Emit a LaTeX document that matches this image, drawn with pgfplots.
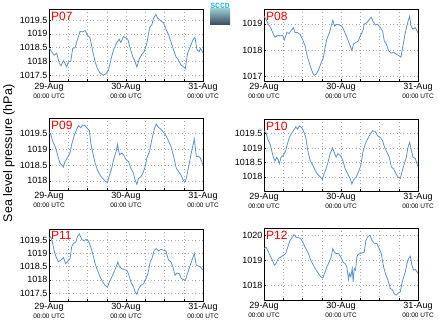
\documentclass[border=0pt]{standalone}
\usepackage{fontspec}
\setmainfont{Liberation Sans}
\setmonofont{Liberation Mono}
\usepackage{pgfplots}
\pgfplotsset{compat=1.18}
\definecolor{lineblue}{RGB}{98,146,196}
\definecolor{logocyan}{RGB}{40,185,210}
\tikzset{plabel/.style={anchor=north west, text=red, font=\fontsize{12}{12}\selectfont, inner sep=0pt, xshift=2pt, yshift=-2.5pt}}
\pgfplotsset{
  panel/.style={
    width=154pt, height=72pt, scale only axis,
    anchor=south west,
    xmin=0, xmax=48,
    xtick={0,24,48},
    minor xtick={6,12,18,30,36,42},
    xticklabels={{29-Aug\\[-1pt]{\fontsize{6.5}{7}\selectfont 00:00 UTC}},{30-Aug\\[-1pt]{\fontsize{6.5}{7}\selectfont 00:00 UTC}},{31-Aug\\[-1pt]{\fontsize{6.5}{7}\selectfont 00:00 UTC}}},
    xticklabel style={align=center, font=\fontsize{9}{10}\selectfont, inner sep=2pt},
    yticklabel style={font=\fontsize{9}{10}\selectfont, inner sep=1.5pt},
    /pgf/number format/.cd, 1000 sep={}, assume math mode=true, /pgfplots/.cd,
    grid=both,
    major grid style={dash pattern=on 0.8pt off 2.6pt, gray!65},
    minor grid style={dash pattern=on 0.8pt off 2.6pt, gray!65},
    tick align=inside,
    tick pos=left,
    major tick length=2pt, minor tick length=2pt,
    tick style={black, line width=0.4pt},
    axis line style={line width=0.6pt},
  },
  curve/.style={color=lineblue, line width=0.8pt},
}
\begin{document}
\begin{tikzpicture}
\useasboundingbox (0,0) rectangle (439pt,327pt);
% P07
\begin{axis}[panel, at={(49pt,246pt)}, ymin=1017.28, ymax=1019.9, ytick={1017.5,1018,1018.5,1019,1019.5}]
\addplot[curve] coordinates {(0,1018.49)(0.83,1018.35)(1.56,1018.22)(2.39,1018.29)(3.23,1017.92)(3.75,1017.83)(4.48,1018.02)(5.0,1017.92)(5.52,1017.79)(6.04,1017.98)(6.77,1017.98)(7.39,1018.47)(8.12,1018.49)(8.85,1018.78)(9.68,1019.08)(10.5,1019.07)(11.24,1019.12)(11.97,1018.96)(12.81,1018.84)(13.54,1018.41)(14.37,1017.98)(15.1,1017.73)(15.93,1017.57)(16.97,1017.49)(17.8,1017.55)(18.53,1017.67)(19.37,1018.1)(20.1,1018.41)(21.14,1018.68)(21.87,1018.8)(22.39,1018.68)(23.22,1018.9)(23.95,1018.84)(24.57,1018.8)(25.3,1018.47)(26.13,1018.16)(26.86,1017.98)(27.38,1017.79)(28.22,1018.1)(28.95,1018.25)(29.67,1018.35)(30.5,1018.65)(31.34,1019.21)(32.07,1019.33)(32.59,1019.57)(33.32,1019.71)(33.84,1019.57)(34.67,1019.49)(35.71,1019.39)(36.54,1019.14)(37.27,1018.96)(38.0,1018.71)(38.84,1018.41)(39.57,1018.16)(40.4,1018.04)(41.13,1017.86)(41.96,1017.79)(42.48,1017.73)(43.21,1018.29)(44.04,1018.53)(44.88,1018.78)(45.5,1018.87)(46.12,1018.41)(46.85,1018.35)(47.17,1018.47)(48,1018.31)};
\node[plabel] at (rel axis cs:0,1) {P07};
\end{axis}
% P08
\begin{axis}[panel, at={(264pt,246pt)}, ymin=1016.82, ymax=1019.56, ytick={1017,1018,1019}]
\addplot[curve] coordinates {(0,1019.29)(0.62,1019.16)(1.35,1018.98)(2.08,1018.85)(2.71,1018.66)(3.44,1018.48)(4.16,1018.56)(5.0,1018.54)(5.83,1018.56)(6.35,1018.38)(7.08,1018.66)(7.81,1018.63)(8.43,1018.73)(9.16,1018.85)(9.68,1018.66)(10.41,1018.66)(11.24,1018.6)(11.97,1018.41)(12.81,1018.16)(13.54,1017.73)(14.37,1017.41)(15.1,1017.16)(15.62,1017.04)(16.24,1017.08)(16.97,1017.23)(17.7,1017.48)(18.53,1017.73)(19.05,1018.1)(19.57,1018.41)(20.41,1018.66)(20.93,1018.91)(21.45,1019.13)(21.97,1018.91)(22.7,1018.98)(23.53,1018.95)(24.26,1018.91)(24.99,1018.73)(25.82,1018.48)(26.65,1018.23)(27.38,1017.98)(27.9,1018.23)(28.74,1018.29)(29.47,1018.35)(29.99,1018.54)(30.82,1018.73)(31.24,1018.98)(32.07,1019.04)(32.8,1019.16)(33.42,1019.25)(33.94,1019.1)(34.67,1018.95)(35.4,1018.98)(36.23,1018.85)(36.96,1018.73)(37.48,1018.35)(38.11,1018.23)(38.84,1017.98)(39.57,1017.88)(40.4,1017.91)(41.13,1017.85)(41.96,1017.79)(42.69,1017.73)(43.31,1018.16)(44.04,1018.66)(44.77,1019.04)(45.4,1019.29)(45.81,1018.91)(46.44,1018.79)(47.17,1018.85)(48,1018.66)};
\node[plabel] at (rel axis cs:0,1) {P08};
\end{axis}
% P09
\begin{axis}[panel, at={(49pt,137pt)}, ymin=1017.71, ymax=1019.98, ytick={1018,1018.5,1019,1019.5}]
\addplot[curve] coordinates {(0,1019.52)(0.52,1019.47)(1.15,1019.25)(1.87,1019.09)(2.39,1018.93)(2.92,1018.72)(3.44,1018.56)(3.96,1018.5)(4.48,1018.43)(5.0,1018.61)(5.73,1018.72)(6.56,1018.88)(7.08,1019.15)(7.81,1019.41)(8.64,1019.63)(9.16,1019.74)(9.89,1019.68)(10.52,1019.76)(11.24,1019.74)(11.97,1019.65)(12.6,1019.58)(13.02,1019.2)(13.64,1018.88)(14.37,1018.56)(15.1,1018.34)(15.93,1018.18)(16.76,1018.07)(17.49,1017.99)(18.22,1017.94)(18.85,1018.18)(19.57,1018.4)(20.1,1018.66)(20.93,1018.93)(21.35,1019.15)(21.97,1018.82)(22.7,1018.88)(23.22,1018.82)(24.05,1018.66)(24.78,1018.61)(25.51,1018.4)(26.34,1018.24)(26.86,1018.02)(27.38,1017.89)(27.9,1018.07)(28.63,1018.13)(29.26,1018.24)(29.99,1018.45)(30.51,1018.72)(31.34,1018.93)(32.07,1019.31)(32.8,1019.63)(33.42,1019.79)(34.15,1019.68)(34.88,1019.63)(35.71,1019.52)(36.54,1019.41)(37.27,1019.25)(38.0,1019.09)(38.84,1018.77)(39.67,1018.4)(40.4,1018.29)(41.13,1018.18)(41.96,1018.0)(42.48,1017.97)(43.0,1018.18)(43.84,1018.61)(44.56,1018.99)(45.29,1019.31)(45.91,1018.77)(46.64,1018.77)(47.17,1018.72)(48,1018.5)};
\node[plabel] at (rel axis cs:0,1) {P09};
\end{axis}
% P10
\begin{axis}[panel, at={(264pt,136pt)}, ymin=1017.51, ymax=1020.0, ytick={1018,1018.5,1019,1019.5}]
\addplot[curve] coordinates {(0,1019.59)(0.62,1019.53)(1.15,1019.31)(1.87,1019.14)(2.39,1018.91)(2.92,1018.68)(3.44,1018.55)(3.96,1018.68)(4.48,1018.57)(4.79,1018.45)(5.31,1018.68)(6.04,1018.74)(6.77,1018.91)(7.29,1019.14)(7.91,1019.36)(8.43,1019.48)(9.16,1019.59)(9.89,1019.73)(10.41,1019.65)(11.04,1019.76)(11.77,1019.7)(12.29,1019.59)(13.02,1019.36)(13.64,1018.91)(14.37,1018.57)(15.2,1018.4)(15.93,1018.23)(16.66,1018.09)(17.49,1018.0)(18.22,1017.91)(18.74,1018.11)(19.37,1018.28)(20.1,1018.57)(20.62,1018.8)(21.35,1019.0)(21.87,1018.85)(22.49,1018.68)(23.01,1018.8)(23.74,1018.74)(24.57,1018.57)(25.3,1018.28)(26.03,1018.11)(26.86,1017.94)(27.38,1017.75)(27.9,1017.89)(28.74,1018.0)(29.47,1018.17)(30.19,1018.4)(30.82,1018.85)(31.55,1019.14)(32.28,1019.31)(33.11,1019.48)(33.84,1019.59)(34.67,1019.57)(35.4,1019.42)(36.23,1019.36)(36.96,1019.25)(37.59,1019.02)(38.32,1018.85)(39.05,1018.68)(39.67,1018.34)(40.4,1018.28)(41.13,1018.11)(41.75,1018.0)(42.48,1017.94)(43.0,1018.17)(43.73,1018.45)(44.36,1018.68)(44.88,1019.02)(45.4,1019.19)(45.81,1018.97)(46.44,1018.68)(47.17,1018.63)(48,1018.34)};
\node[plabel] at (rel axis cs:0,1) {P10};
\end{axis}
% P11
\begin{axis}[panel, at={(49pt,26pt)}, ymin=1017.2, ymax=1019.92, ytick={1017.5,1018,1018.5,1019,1019.5}]
\addplot[curve] coordinates {(0,1019.56)(0.52,1019.63)(1.04,1019.44)(1.56,1019.12)(2.19,1018.87)(2.92,1018.68)(3.64,1018.74)(4.48,1018.84)(5.21,1018.61)(5.73,1018.68)(6.56,1018.8)(7.08,1019.25)(7.6,1019.37)(8.43,1019.44)(8.85,1019.63)(9.47,1019.73)(10.2,1019.53)(10.93,1019.47)(11.56,1019.53)(12.29,1019.47)(13.02,1019.25)(13.64,1018.99)(14.37,1018.61)(15.1,1018.36)(15.93,1018.11)(16.76,1017.92)(17.49,1017.79)(18.22,1017.73)(18.85,1017.92)(19.57,1018.11)(20.3,1018.3)(20.93,1018.49)(21.45,1018.68)(21.97,1018.49)(22.7,1018.42)(23.43,1018.39)(24.26,1018.36)(24.78,1018.23)(25.51,1017.92)(26.34,1017.73)(26.86,1017.54)(27.38,1017.45)(27.9,1017.66)(28.63,1017.79)(29.47,1017.85)(30.19,1018.04)(30.82,1018.23)(31.55,1018.68)(32.07,1018.8)(32.8,1019.12)(33.42,1019.18)(34.15,1019.09)(34.88,1019.15)(35.71,1019.12)(36.44,1019.09)(37.27,1018.74)(38.0,1018.68)(38.63,1018.49)(39.25,1018.17)(39.88,1018.26)(40.61,1018.23)(41.23,1018.04)(41.96,1018.01)(42.48,1017.98)(43.0,1018.17)(43.84,1018.49)(44.56,1018.74)(45.29,1018.99)(45.91,1018.55)(46.64,1018.51)(47.17,1018.49)(48,1018.36)};
\node[plabel] at (rel axis cs:0,1) {P11};
\end{axis}
% P12
\begin{axis}[panel, at={(264pt,27pt)}, ymin=1017.4, ymax=1020.3, ytick={1018,1019,1020}]
\addplot[curve] coordinates {(0,1019.47)(0.62,1019.53)(1.15,1019.4)(1.87,1019.2)(2.6,1019.0)(3.23,1018.8)(3.75,1018.87)(4.48,1019.07)(5.21,1019.13)(6.04,1019.2)(6.77,1019.27)(7.39,1019.53)(8.12,1019.8)(8.85,1019.93)(9.37,1020.04)(10.0,1019.93)(10.72,1019.91)(11.45,1019.87)(12.29,1019.67)(13.02,1019.47)(13.85,1019.27)(14.58,1019.0)(15.41,1018.8)(16.24,1018.6)(16.97,1018.47)(17.7,1018.33)(18.32,1018.29)(19.05,1018.53)(19.57,1018.73)(20.3,1018.93)(20.93,1019.13)(21.45,1019.47)(21.97,1019.33)(22.49,1019.27)(23.22,1019.27)(23.95,1019.13)(24.57,1018.93)(25.3,1018.87)(25.82,1018.73)(26.34,1018.23)(26.65,1018.47)(27.07,1018.33)(27.49,1018.67)(27.8,1018.13)(28.11,1018.67)(28.53,1018.6)(28.95,1019.13)(29.26,1019.22)(29.78,1019.27)(30.51,1019.29)(31.24,1019.33)(31.76,1019.8)(32.38,1019.96)(33.11,1020.0)(33.63,1019.8)(34.36,1019.69)(35.19,1019.67)(35.92,1019.47)(36.55,1019.27)(37.28,1018.73)(38.0,1018.4)(38.63,1018.2)(39.36,1017.87)(40.09,1017.8)(40.61,1017.64)(41.23,1017.6)(41.96,1017.69)(42.48,1017.73)(43.0,1018.07)(43.52,1018.33)(44.04,1018.53)(44.56,1018.87)(45.08,1019.07)(45.6,1019.16)(46.12,1018.8)(46.64,1018.6)(47.17,1018.63)(47.69,1018.53)(48,1018.47)};
\node[plabel] at (rel axis cs:0,1) {P12};
\end{axis}
% y label
\node[rotate=90, font=\fontsize{12.5}{13}\selectfont, inner sep=0pt] at (9pt,173.5pt) {Sea level pressure (hPa)};
% logo
\shade[top color={rgb,255:red,150;green,200;blue,205}, bottom color={rgb,255:red,60;green,72;blue,88}] (210pt,302pt) rectangle (230pt,318pt);
\node[text=logocyan, font=\ttfamily\bfseries\fontsize{8}{8}\selectfont, inner sep=0pt, anchor=south] at (220pt,318.5pt) {SCCD};
\end{tikzpicture}
\end{document}
